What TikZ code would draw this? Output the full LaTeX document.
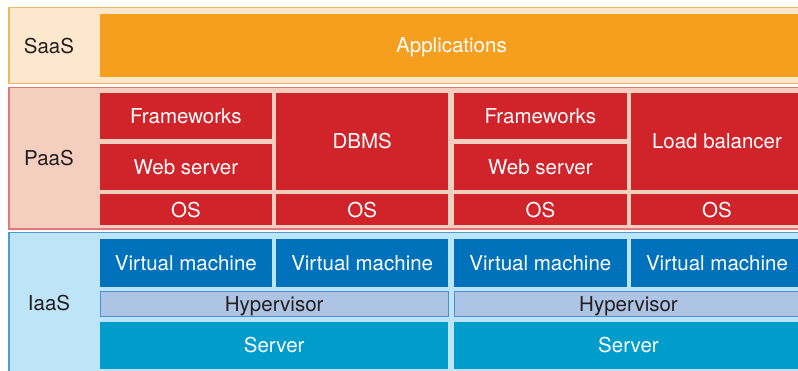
\documentclass[tikz,border=0pt]{standalone}
\usepackage{fontspec}
\setmainfont{TeX Gyre Heros}
\usetikzlibrary{positioning}

\definecolor{saasbg}{HTML}{FDE8CD}
\definecolor{saasline}{HTML}{F3B562}
\definecolor{appcol}{HTML}{F69E1E}
\definecolor{paasbg}{HTML}{F4CEBF}
\definecolor{paasline}{HTML}{E3767B}
\definecolor{paascol}{HTML}{D1232A}
\definecolor{iaasbg}{HTML}{BEE4F7}
\definecolor{iaasline}{HTML}{4B9CD3}
\definecolor{vmcol}{HTML}{0071BB}
\definecolor{hypercol}{HTML}{AEC4E5}
\definecolor{hyperline}{HTML}{4A90D0}
\definecolor{servercol}{HTML}{009DCC}
\definecolor{labelcol}{HTML}{231F20}

\tikzset{
  layer/.style={line width=1.2pt},
  captext/.style={text height=14.7pt, text depth=0pt, font=\fontsize{20.5}{24}\selectfont},
  blockbox/.style={captext, inner sep=0pt, outer sep=0pt, text=white},
  appbox/.style={blockbox, fill=appcol},
  redbox/.style={blockbox, fill=paascol},
  vmbox/.style={blockbox, fill=vmcol},
  hyperbox/.style={blockbox, fill=hypercol, draw=hyperline, line width=0.9pt, text=labelcol},
  serverbox/.style={blockbox, fill=servercol},
  layername/.style={captext, inner sep=0pt, text=labelcol}
}

\begin{document}
\begin{tikzpicture}[x=1pt, y=-1pt]
	\clip (0,0) rectangle (798,371);
	% layer bands
	\draw [layer, fill=saasbg, draw=saasline] (9,7.3) rectangle (810,83.3);
	\draw [layer, fill=paasbg, draw=paasline] (9,87.7) rectangle (810,229);
	\draw [layer, fill=iaasbg, draw=iaasline] (9,232.7) rectangle (810,390);
	\node [layername] (saas) at (49,46) {SaaS};
	\node [layername] (paas) at (49,158) {PaaS};
	\node [layername] (iaas) at (49,303) {IaaS};
	% SaaS
	\node [appbox, minimum width=703pt, minimum height=62.7pt] (apps) at (451.5,45.3) {Applications};
	% PaaS
	\node [redbox, minimum width=171.7pt, minimum height=46.3pt] (fw1) at (185.9,115.9) {Frameworks};
	\node [redbox, minimum width=171.7pt, minimum height=46.3pt] (web1) at (185.9,166.9) {Web server};
	\node [redbox, minimum width=172.3pt, minimum height=97.3pt] (dbms) at (362.2,141.4) {DBMS};
	\node [redbox, minimum width=172.7pt, minimum height=46.3pt] (fw2) at (540.4,115.9) {Frameworks};
	\node [redbox, minimum width=172.7pt, minimum height=46.3pt] (web2) at (540.4,166.9) {Web server};
	\node [redbox, minimum width=172pt, minimum height=97.3pt] (lb) at (717,141.4) {Load balancer};
	\node [redbox, minimum width=171.7pt, minimum height=30.7pt] (os1) at (185.9,209.7) {OS};
	\node [redbox, minimum width=172.3pt, minimum height=30.7pt] (os2) at (362.2,209.7) {OS};
	\node [redbox, minimum width=172.7pt, minimum height=30.7pt] (os3) at (540.4,209.7) {OS};
	\node [redbox, minimum width=172pt, minimum height=30.7pt] (os4) at (717,209.7) {OS};
	% IaaS
	\node [vmbox, minimum width=171.7pt, minimum height=47.7pt] (vm1) at (185.9,262.9) {Virtual machine};
	\node [vmbox, minimum width=172.3pt, minimum height=47.7pt] (vm2) at (362.2,262.9) {Virtual machine};
	\node [vmbox, minimum width=172.7pt, minimum height=47.7pt] (vm3) at (540.4,262.9) {Virtual machine};
	\node [vmbox, minimum width=172pt, minimum height=47.7pt] (vm4) at (717,262.9) {Virtual machine};
	\node [hyperbox, minimum width=347.5pt, minimum height=25.2pt] (hyp1) at (274.2,303.7) {Hypervisor};
	\node [hyperbox, minimum width=348pt, minimum height=25.2pt] (hyp2) at (628.5,303.7) {Hypervisor};
	\node [serverbox, minimum width=348.3pt, minimum height=47.3pt] (srv1) at (274.2,345.4) {Server};
	\node [serverbox, minimum width=349pt, minimum height=47.3pt] (srv2) at (628.5,345.4) {Server};
\end{tikzpicture}
\end{document}
